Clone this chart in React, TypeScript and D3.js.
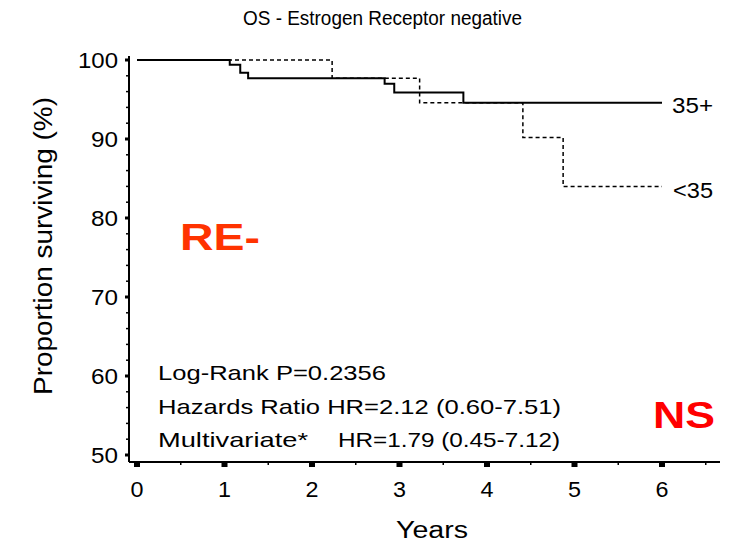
import React from "react";
import * as d3 from "d3";

const W = 733;
const H = 546;

const titleText = "OS - Estrogen Receptor negative";
const yTicks = [50, 60, 70, 80, 90, 100];
const xTicks = [0, 1, 2, 3, 4, 5, 6];

// Kaplan-Meier step curves: [time (years), survival %]
const over35 = [
  [0, 100], [1.06, 99.4], [1.18, 98.4], [1.27, 97.7], [2.83, 97.0],
  [2.94, 95.9], [3.73, 94.6], [6.0, 94.6],
];
const under35 = [
  [0, 100], [2.23, 97.7], [3.23, 94.6], [4.41, 90.2], [4.87, 84.0], [6.0, 84.0],
];

const statLines = [
  { a: "Log-Rank  P=0.2356", aLen: 228, b: "", bLen: 0 },
  { a: "Hazards Ratio HR=2.12 (0.60-7.51)", aLen: 403, b: "", bLen: 0 },
  { a: "Multivariate*", aLen: 150, b: "HR=1.79 (0.45-7.12)", bLen: 222 },
];

const font = "Arial, 'Liberation Sans', sans-serif";

function T(props: any) {
  const { len, children, ...rest } = props;
  return (
    <text
      {...rest}
      textLength={len}
      lengthAdjust="spacingAndGlyphs"
    >
      {children}
    </text>
  );
}

export default function App() {
  const x = d3.scaleLinear().domain([0, 6]).range([137, 662]);
  const y = d3.scaleLinear().domain([50, 100]).range([455, 60]);
  const line = d3
    .line<number[]>()
    .x((d) => x(d[0]))
    .y((d) => y(d[1]))
    .curve(d3.curveStepAfter);

  const yMinor = d3.range(50, 100.01, 2);
  const xMinor = d3.range(0, 6.51, 0.5);
  const axisX = 129;
  const axisY = 462;

  return (
    <svg width={W} height={H} style={{ display: "block", position: "absolute", left: 0, top: 0 }} fontFamily={font}>
      <rect width={W} height={H} fill="#fff" />
      <T x={243} y={25} fontSize={20} len={279}>{titleText}</T>

      {/* y axis */}
      <line x1={axisX} x2={axisX} y1={y(100) - 4} y2={axisY} stroke="#000" strokeWidth={2} />
      {yMinor.map((v) => (
        <line key={"ym" + v} x1={axisX - 3} x2={axisX} y1={y(v)} y2={y(v)} stroke="#000" strokeWidth={1.5} />
      ))}
      {yTicks.map((v) => (
        <g key={"y" + v}>
          <line x1={axisX - 4} x2={axisX} y1={y(v)} y2={y(v)} stroke="#000" strokeWidth={3} />
          <T x={118 - (String(v).length === 3 ? 40 : 27)} y={y(v) + 8} fontSize={22} len={String(v).length === 3 ? 40 : 27}>{v}</T>
        </g>
      ))}

      {/* x axis */}
      <line x1={axisX} x2={720} y1={axisY} y2={axisY} stroke="#000" strokeWidth={2} />
      {xMinor.map((v) => (
        <line key={"xm" + v} x1={x(v)} x2={x(v)} y1={axisY} y2={axisY + 3} stroke="#000" strokeWidth={1.5} />
      ))}
      {xTicks.map((v) => (
        <g key={"x" + v}>
          <rect x={x(v) - 3} y={axisY} width={6} height={5} fill="#000" />
          <T x={x(v) - 6.5} y={497} fontSize={22} len={13}>{v}</T>
        </g>
      ))}

      <T x={396} y={538} fontSize={23} len={72}>Years</T>
      <T transform={`translate(52, 395) rotate(-90)`} fontSize={26} len={298}>
        Proportion surviving (%)
      </T>

      {/* curves */}
      <path d={line(under35 as any) || ""} fill="none" stroke="#000" strokeWidth={1.5} strokeDasharray="4,3" />
      <path d={line(over35 as any) || ""} fill="none" stroke="#000" strokeWidth={2} />

      <T x={672} y={113} fontSize={22} len={41}>35+</T>
      <T x={673} y={198} fontSize={22} len={40}>{"<35"}</T>

      <T x={180} y={250} fontSize={37} fontWeight="bold" fill="#ff3300" len={80}>RE-</T>
      <T x={653} y={428} fontSize={36} fontWeight="bold" fill="#ff0000" len={62}>NS</T>

      {statLines.map((s, i) => (
        <g key={"s" + i}>
          <T x={158} y={380 + i * 33.5} fontSize={21} len={s.aLen}>{s.a}</T>
          {s.b && <T x={338} y={380 + i * 33.5} fontSize={21} len={s.bLen}>{s.b}</T>}
        </g>
      ))}
    </svg>
  );
}
